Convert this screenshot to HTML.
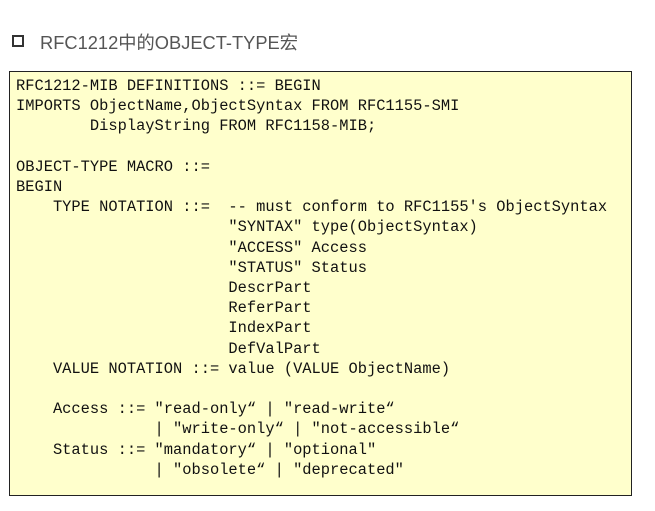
<!DOCTYPE html>
<html><head><meta charset="utf-8"><style>
html,body{margin:0;padding:0;background:#fff;width:655px;height:511px;overflow:hidden}
.sq{position:absolute;left:12px;top:35px;width:8px;height:8px;border:2.5px solid #333}
.t{position:absolute;left:40px;top:29px;font:18.3px "Liberation Sans","Noto Sans CJK SC",sans-serif;color:#555;white-space:nowrap}
.box{position:absolute;left:9px;top:71px;width:623px;height:425px;border:1px solid #222;background:#ffffcc;box-sizing:border-box}
pre{margin:0;position:absolute;left:6px;top:4px;font:15.4px/20.2px "Liberation Mono",monospace;color:#111}
</style></head><body>
<div class="sq"></div>
<div class="t">RFC1212中的OBJECT-TYPE宏</div>
<div class="box"><pre>RFC1212-MIB DEFINITIONS ::= BEGIN
IMPORTS ObjectName,ObjectSyntax FROM RFC1155-SMI
        DisplayString FROM RFC1158-MIB;

OBJECT-TYPE MACRO ::=
BEGIN
    TYPE NOTATION ::=  -- must conform to RFC1155's ObjectSyntax
                       "SYNTAX" type(ObjectSyntax)
                       "ACCESS" Access
                       "STATUS" Status
                       DescrPart
                       ReferPart
                       IndexPart
                       DefValPart
    VALUE NOTATION ::= value (VALUE ObjectName)

    Access ::= "read-only“ | "read-write“
               | "write-only“ | "not-accessible“
    Status ::= "mandatory“ | "optional"
               | "obsolete“ | "deprecated"</pre></div>
</body></html>
